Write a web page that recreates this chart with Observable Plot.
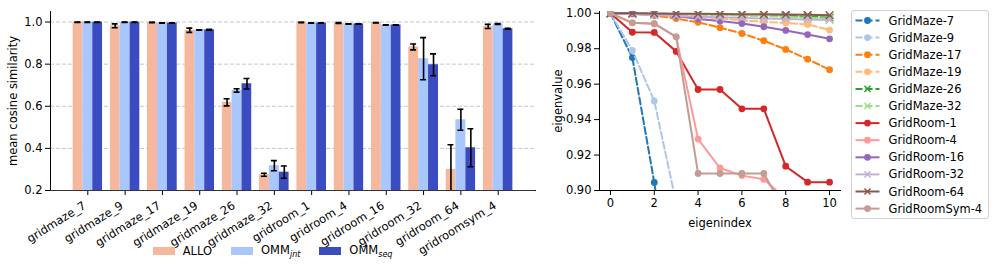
<!DOCTYPE html>
<html><head><meta charset="utf-8">
<script src="https://cdn.jsdelivr.net/npm/d3@7"></script>
<script src="https://cdn.jsdelivr.net/npm/@observablehq/plot@0.6"></script>
<style>
body{margin:0;background:#fff;font-family:"DejaVu Sans",sans-serif;}
#wrap{position:relative;width:996px;height:272px;overflow:hidden;background:#fff;}
.layer{position:absolute;top:0;}
.lg{position:absolute;display:flex;align-items:center;font-size:11.5px;color:#000;}
.lg .sw{width:22px;height:8px;display:inline-block;}
.lg .tx{margin-left:8px;margin-right:19px;}
sub{font-style:italic;font-size:8px;}
</style></head><body><div id="wrap"></div>
<script>
// ---------- left chart data ----------
const envs = ["gridmaze_7","gridmaze_9","gridmaze_17","gridmaze_19","gridmaze_26","gridmaze_32","gridroom_1","gridroom_4","gridroom_16","gridroom_32","gridroom_64","gridroomsym_4"];
const methods = ["ALLO","OMM_jnt","OMM_seq"];
const alloMean = [0.999, 0.982, 0.998, 0.961, 0.619, 0.275, 0.998, 0.995, 0.997, 0.882, 0.300, 0.979];
const alloErr  = [0.001, 0.009, 0.001, 0.010, 0.017, 0.007, 0.001, 0.002, 0.001, 0.014, 0.117, 0.010];
const jntMean  = [0.999, 0.999, 0.995, 0.962, 0.675, 0.318, 0.995, 0.991, 0.986, 0.826, 0.536, 0.991];
const jntErr   = [0.001, 0.001, 0.001, 0.001, 0.008, 0.024, 0.001, 0.001, 0.001, 0.100, 0.050, 0.002];
const seqMean  = [0.999, 0.999, 0.995, 0.963, 0.707, 0.287, 0.995, 0.991, 0.986, 0.797, 0.403, 0.968];
const seqErr   = [0.001, 0.001, 0.001, 0.002, 0.025, 0.029, 0.001, 0.001, 0.001, 0.052, 0.090, 0.002];
const barTicks = [0.2, 0.4, 0.6, 0.8, 1.0];

// ---------- right chart data ----------
const eigenIndex = [0,1,2,3,4,5,6,7,8,9,10];
const seriesNames = ["GridMaze-7","GridMaze-9","GridMaze-17","GridMaze-19","GridMaze-26","GridMaze-32","GridRoom-1","GridRoom-4","GridRoom-16","GridRoom-32","GridRoom-64","GridRoomSym-4"];
const eigGridMaze7   = [1.0, 0.975, 0.9045, 0.82, 0.75, 0.70, 0.66, 0.62, 0.60, 0.58, 0.56];
const eigGridMaze9   = [1.0, 0.979, 0.9505, 0.893, 0.84, 0.79, 0.75, 0.72, 0.69, 0.66, 0.64];
const eigGridMaze17  = [1.0, 0.9996, 0.9987, 0.997, 0.9949, 0.9919, 0.9886, 0.9845, 0.9796, 0.9741, 0.9682];
const eigGridMaze19  = [1.0, 0.9997, 0.9993, 0.9987, 0.998, 0.9971, 0.996, 0.9952, 0.9945, 0.9937, 0.9905];
const eigGridMaze26  = [1.0, 0.9999, 0.9998, 0.9996, 0.9994, 0.9992, 0.999, 0.9988, 0.9985, 0.9981, 0.9976];
const eigGridMaze32  = [1.0, 0.9999, 0.9997, 0.9995, 0.9993, 0.999, 0.9987, 0.9984, 0.998, 0.9975, 0.997];
const eigGridRoom1   = [1.0, 0.9893, 0.9892, 0.9785, 0.957, 0.957, 0.9461, 0.9461, 0.9137, 0.9047, 0.9047];
const eigGridRoom4   = [1.0, 0.9946, 0.9941, 0.9867, 0.929, 0.9127, 0.9084, 0.9063, 0.8955, 0.89, 0.885];
const eigGridRoom16  = [1.0, 0.9998, 0.9994, 0.9985, 0.9968, 0.9956, 0.9942, 0.9924, 0.9903, 0.988, 0.9856];
const eigGridRoom32  = [1.0, 0.9995, 0.999, 0.9985, 0.998, 0.9977, 0.9974, 0.9971, 0.9968, 0.9965, 0.9962];
const eigGridRoom64  = [1.0, 1.0, 0.9999, 0.9998, 0.9997, 0.9996, 0.9995, 0.9994, 0.9993, 0.9991, 0.9989];
const eigGridRoomSym4= [1.0, 0.9946, 0.9941, 0.9867, 0.9096, 0.9096, 0.9096, 0.9096, 0.8875, 0.88, 0.875];
const eigTicksX = [0, 2, 4, 6, 8, 10];
const eigTicksY = [0.90, 0.92, 0.94, 0.96, 0.98, 1.00];

// ---------- styles ----------
const methodColors = ["#f5b89d", "#aac7fd", "#3b4cc0"];
const seriesColors = ["#1f77b4","#aec7e8","#ff7f0e","#ffbb78","#2ca02c","#98df8a","#d62728","#ff9896","#9467bd","#c5b0d5","#8c564b","#c49c94"];
const seriesDashed = [true,true,true,true,true,true,false,false,false,false,false,false];
const seriesSymbol = ["circle","circle","circle","circle","times","times","circle","circle","circle","times","times","circle"];
const eigValues = [eigGridMaze7,eigGridMaze9,eigGridMaze17,eigGridMaze19,eigGridMaze26,eigGridMaze32,eigGridRoom1,eigGridRoom4,eigGridRoom16,eigGridRoom32,eigGridRoom64,eigGridRoomSym4];

const FONT = {fontFamily: "DejaVu Sans", fontSize: "11.5px", background: "transparent", color: "#000", overflow: "visible"};
const wrap = document.getElementById("wrap");
function place(el, left, top) { el.classList.add("layer"); el.style.left = left + "px"; el.style.top = top + "px"; wrap.appendChild(el); }

// ---------- left: bars ----------
const means = [alloMean, jntMean, seqMean], errs = [alloErr, jntErr, seqErr];
const rows = envs.flatMap((env, i) => methods.map((m, j) => ({env, method: m, value: means[j][i], err: errs[j][i]})));
const L = {width: 545, height: 240, marginLeft: 50, marginRight: 10, marginTop: 11, marginBottom: 50};
const yDomL = [0.2, 1.05];
const band = {domain: envs, paddingInner: 0.2, paddingOuter: 0.6, align: 0.5, round: false};

const grid = Plot.plot({
  ...L, style: FONT,
  x: {type: "band", ...band, axis: null},
  y: {domain: yDomL, axis: null},
  marks: [Plot.ruleY(barTicks.slice(1), {stroke: "#c8c8c8", strokeWidth: 1, strokeDasharray: "4,2"})]
});
place(grid, 0, 0);

const bars = Plot.plot({
  ...L, style: FONT,
  fx: {...band, axis: null, label: null},
  x: {domain: methods, paddingInner: 0, paddingOuter: 0, round: false, axis: null},
  y: {domain: yDomL, axis: null},
  color: {domain: methods, range: methodColors},
  marks: [
    Plot.barY(rows, {fx: "env", x: "method", y: "value", fill: "method", clip: true}),
    Plot.ruleX(rows, {fx: "env", x: "method", y1: d => d.value - d.err, y2: d => d.value + d.err, stroke: "#000", strokeWidth: 1.6, clip: true}),
    Plot.tickY(rows, {fx: "env", x: "method", y: d => d.value - d.err, stroke: "#000", strokeWidth: 1.6, insetLeft: 2, insetRight: 2, clip: true}),
    Plot.tickY(rows, {fx: "env", x: "method", y: d => d.value + d.err, stroke: "#000", strokeWidth: 1.6, insetLeft: 2, insetRight: 2, clip: true})
  ]
});
place(bars, 0, 0);

const axesL = Plot.plot({
  ...L, style: FONT,
  x: {type: "band", ...band, tickSize: 5, tickFormat: () => "", line: true, label: null},
  y: {domain: yDomL, ticks: barTicks, tickFormat: ".1f", tickSize: 5, tickPadding: 3, line: true,
      label: "mean cosine similarity", labelAnchor: "center", labelOffset: 42, labelArrow: false},
  marks: [
    Plot.ruleY([0.2], {stroke: "#333", strokeWidth: 1}),
    Plot.text(envs, {x: d => d, text: d => d, frameAnchor: "bottom", rotate: -32, textAnchor: "end",
      lineAnchor: "middle", dx: -3, dy: 14, fontSize: 11.5, fill: "#000"})
  ]
});
place(axesL, 0, 0);

// left legend
const lg = document.createElement("div");
lg.className = "lg"; lg.style.left = "152.7px"; lg.style.top = "243px";
const lgLabels = ["ALLO", "OMM<sub>jnt</sub>", "OMM<sub>seq</sub>"];
methods.forEach((m, j) => {
  const sw = document.createElement("span"); sw.className = "sw"; sw.style.background = methodColors[j];
  const tx = document.createElement("span"); tx.className = "tx"; tx.innerHTML = lgLabels[j];
  lg.appendChild(sw); lg.appendChild(tx);
});
wrap.appendChild(lg);

// ---------- right: eigenvalues ----------
const rmarks = [];
seriesNames.forEach((name, i) => {
  const pts = eigenIndex.map((x, k) => ({x, y: eigValues[i][k], name}));
  rmarks.push(Plot.line(pts, {x: "x", y: "y", stroke: seriesColors[i], strokeWidth: 2,
    strokeDasharray: seriesDashed[i] ? "7,3" : null, clip: true}));
  if (seriesSymbol[i] === "circle")
    rmarks.push(Plot.dot(pts, {x: "x", y: "y", r: 3.4, fill: seriesColors[i], stroke: "none", clip: true}));
  else
    rmarks.push(Plot.dot(pts, {x: "x", y: "y", r: 3.6, symbol: "times", stroke: seriesColors[i], strokeWidth: 1.4, clip: true}));
});
const right = Plot.plot({
  width: 305, height: 240, marginLeft: 54, marginRight: 10, marginTop: 11, marginBottom: 50, style: FONT,
  x: {domain: [-0.5, 10.5], ticks: eigTicksX, tickSize: 5, tickPadding: 3, line: true, label: "eigenindex",
      labelAnchor: "center", labelOffset: 36, labelArrow: false},
  y: {domain: [0.9, 1.001], ticks: eigTicksY, tickFormat: ".2f", tickSize: 5, tickPadding: 3, line: true,
      label: "eigenvalue", labelAnchor: "center", labelOffset: 46, labelArrow: false},
  marks: rmarks
});
place(right, 545, 0);

// right legend
const lgW = 137, lgH = 208, rowH = 17.1;
const svg = d3.create("svg").attr("width", lgW + 2).attr("height", lgH + 2)
  .style("font-family", "DejaVu Sans").style("font-size", "11.5px");
svg.append("rect").attr("x", 0.5).attr("y", 0.5).attr("width", lgW).attr("height", lgH).attr("rx", 2.5)
  .attr("fill", "#fff").attr("fill-opacity", 0.8).attr("stroke", "#d0d0d0");
seriesNames.forEach((name, i) => {
  const cy = 10.5 + i * rowH;
  const g = svg.append("g");
  g.append("line").attr("x1", 4.5).attr("x2", 28.5).attr("y1", cy).attr("y2", cy)
    .attr("stroke", seriesColors[i]).attr("stroke-width", 2).attr("stroke-dasharray", seriesDashed[i] ? "7,3" : null);
  if (seriesSymbol[i] === "circle")
    g.append("circle").attr("cx", 16.5).attr("cy", cy).attr("r", 3.4).attr("fill", seriesColors[i]);
  else
    g.append("path").attr("d", d3.symbol(d3.symbolTimes, 3.6 * 3.6 * 2)()).attr("transform", `translate(16.5,${cy})`)
      .attr("stroke", seriesColors[i]).attr("stroke-width", 1.4).attr("fill", "none");
  g.append("text").attr("x", 37.5).attr("y", cy).attr("dy", "0.35em").text(name);
});
place(svg.node(), 850.5, 9.5);
</script></body></html>
